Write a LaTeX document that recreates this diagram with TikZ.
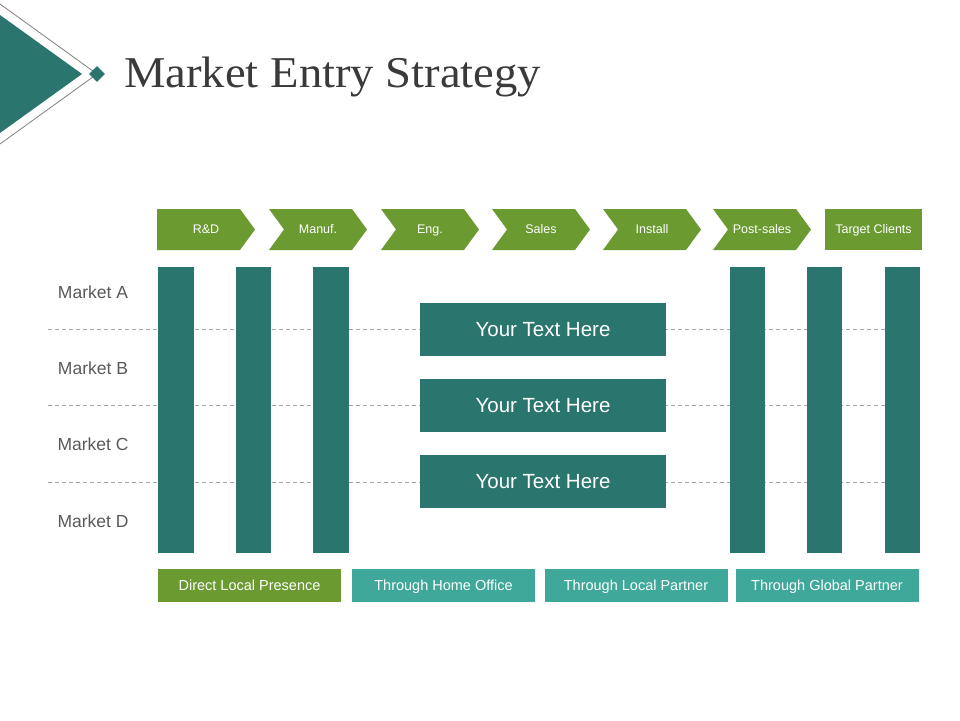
\documentclass[tikz,border=0pt]{standalone}
\usepackage{fontspec}
\usetikzlibrary{shapes.geometric}
\setmainfont{Liberation Sans}
\newfontfamily\titlefont[FakeStretch=1.06]{Liberation Serif}
\definecolor{tealc}{HTML}{2A766E}
\definecolor{greenc}{HTML}{6A9A30}
\definecolor{lteal}{HTML}{3FA89B}
\definecolor{titlegray}{HTML}{3A3A3A}
\definecolor{labgray}{HTML}{595959}
\definecolor{dashgray}{HTML}{A6A6A6}
\definecolor{outgray}{HTML}{808080}
\tikzset{
  bar/.style={fill=tealc, draw=none, minimum width=36pt, minimum height=286pt, inner sep=0pt},
  textbox/.style={fill=tealc, draw=none, minimum width=246pt, minimum height=53pt, inner sep=0pt, text=white, font=\fontsize{20.5}{24}\selectfont, text height=14.7pt, text depth=0pt},
  chevtext/.style={text=white, inner sep=0pt, font=\fontsize{12.5}{15}\selectfont, text height=8.95pt, text depth=0pt},
  btn/.style={draw=none, minimum width=183pt, minimum height=33pt, inner sep=0pt, text=white, font=\fontsize{14.5}{17}\selectfont, text height=10.4pt, text depth=0pt},
  mlabel/.style={text=labgray, inner sep=0pt, font=\fontsize{17.5}{21}\selectfont, text height=12.5pt, text depth=0pt},
  gridline/.style={dashgray, line width=0.8pt, dash pattern=on 4pt off 3pt},
}
\begin{document}
\begin{tikzpicture}[x=1pt,y=-1pt]
\useasboundingbox (0,0) rectangle (960,720);
% header decoration
\fill[tealc] (0,15) -- (82,74) -- (0,133) -- cycle;
\draw[outgray, line width=0.8pt] (0,4) -- (97,74) -- (0,144);
\node[fill=tealc, diamond, minimum width=16pt, minimum height=16pt, inner sep=0pt] (dia) at (97,74) {};
\node[anchor=base west, text=titlegray, inner sep=0pt, font=\titlefont\fontsize{44}{50}\selectfont] (title) at (124,87) {Market Entry Strategy};
% dashed grid lines
\coordinate (g1a) at (48,329); \coordinate (g1b) at (885,329);
\coordinate (g2a) at (48,405); \coordinate (g2b) at (885,405);
\coordinate (g3a) at (48,482); \coordinate (g3b) at (885,482);
\draw[gridline] (g1a) -- (g1b);
\draw[gridline] (g2a) -- (g2b);
\draw[gridline] (g3a) -- (g3b);
% market labels
\node[mlabel] (ma) at (93,292) {Market A};
\node[mlabel] (mb) at (93,368) {Market B};
\node[mlabel] (mc) at (93,444) {Market C};
\node[mlabel] (md) at (93,521) {Market D};
% chevrons
\fill[greenc] (157,209) -- (240,209) -- (255,229.5) -- (240,250) -- (157,250) -- cycle;
\node[chevtext] (c1) at (206,229.5) {R\&D};
\foreach \x/\lab/\nm in {269/Manuf./c2, 381/Eng./c3, 492/Sales/c4, 603/Install/c5, 713/Post-sales/c6}{
  \fill[greenc] (\x,209) -- (\x+83,209) -- (\x+98,229.5) -- (\x+83,250) -- (\x,250) -- (\x+15,229.5) -- cycle;
  \node[chevtext] (\nm) at (\x+49,229.5) {\lab};
}
\node[fill=greenc, minimum width=97pt, minimum height=41pt, chevtext] (c7) at (873.5,229.5) {Target Clients};
% bars
\node[bar] (b1) at (176,410) {};
\node[bar, minimum width=35pt] (b2) at (253.5,410) {};
\node[bar] (b3) at (331,410) {};
\node[bar, minimum width=35pt] (b4) at (747.5,410) {};
\node[bar, minimum width=35pt] (b5) at (824.5,410) {};
\node[bar, minimum width=35pt] (b6) at (902.5,410) {};
% text boxes
\node[textbox] (t1) at (543,329) {Your Text Here};
\node[textbox] (t2) at (543,405.5) {Your Text Here};
\node[textbox] (t3) at (543,481.5) {Your Text Here};
% bottom buttons
\node[btn, fill=greenc] (d1) at (249.5,585.5) {Direct Local Presence};
\node[btn, fill=lteal] (d2) at (443.5,585.5) {Through Home Office};
\node[btn, fill=lteal] (d3) at (636,585.5) {Through Local Partner};
\node[btn, fill=lteal] (d4) at (827,585.5) {Through Global Partner};
\end{tikzpicture}
\end{document}
